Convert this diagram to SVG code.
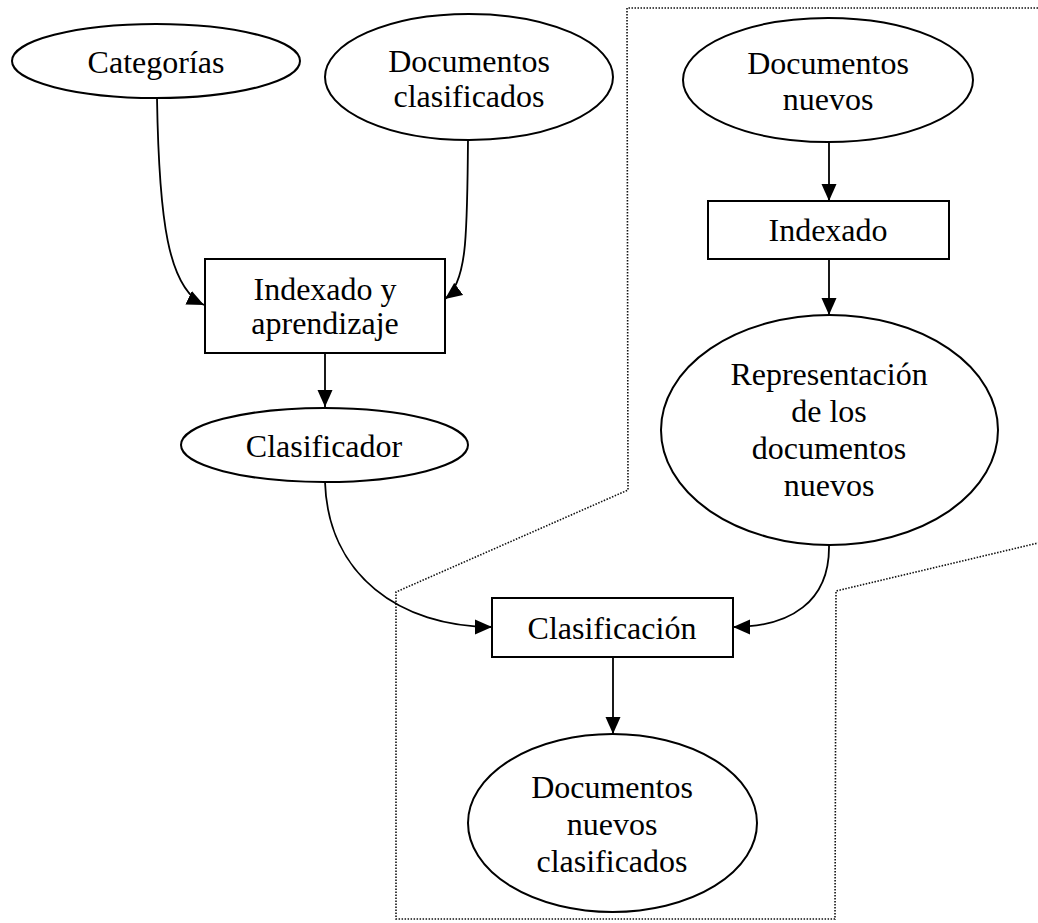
<svg xmlns="http://www.w3.org/2000/svg" width="1038" height="923" viewBox="0 0 1038 923">
<style>
.n{fill:#fff;stroke:#000;stroke-width:2}
.t{font-family:"Liberation Serif","Times New Roman",serif;font-size:32px;fill:#000;text-anchor:middle}
.c{fill:none;stroke:#000;stroke-width:1.8}
.d{fill:none;stroke:#111;stroke-width:1.6;stroke-dasharray:1.5 1.5}
</style>
<defs>
<marker id="ah" markerUnits="userSpaceOnUse" markerWidth="18" markerHeight="16" refX="17" refY="8" orient="auto">
<path d="M0,0.5 L17,8 L0,15.5 z" fill="#000"/>
</marker>
</defs>
<rect width="1038" height="923" fill="#fff"/>
<g id="region">
<path class="d" d="M1038,8 L627,8 L628,490 L396,592 L396,919 L835,919 L836,591 L1038,543"/>
</g>
<g id="connectors">
<path class="c" marker-end="url(#ah)" d="M157,98 C159,220 168,288 204,305"/>
<path class="c" marker-end="url(#ah)" d="M468,140 C467,230 468,282 445,299"/>
<path class="c" marker-end="url(#ah)" d="M325,353 L325,407"/>
<path class="c" marker-end="url(#ah)" d="M829,142 L829,201"/>
<path class="c" marker-end="url(#ah)" d="M829,259 L829,315"/>
<path class="c" marker-end="url(#ah)" d="M325,482 C328,575 400,627 492,627"/>
<path class="c" marker-end="url(#ah)" d="M829,545 C830,602 790,627 733,627"/>
<path class="c" marker-end="url(#ah)" d="M613,657 L613,734"/>
</g>
<g id="categorias">
<ellipse class="n" cx="156" cy="61" rx="144" ry="37"/>
<text class="t" x="156" y="73">Categorías</text>
</g>
<g id="docs-clasificados">
<ellipse class="n" cx="469" cy="77" rx="144" ry="63"/>
<text class="t" x="469" y="72">Documentos</text>
<text class="t" x="469" y="107">clasificados</text>
</g>
<g id="docs-nuevos">
<ellipse class="n" cx="828" cy="80" rx="145" ry="62"/>
<text class="t" x="828" y="74">Documentos</text>
<text class="t" x="828" y="110">nuevos</text>
</g>
<g id="indexado-aprendizaje">
<rect class="n" x="205" y="259" width="240" height="94"/>
<text class="t" x="325" y="300">Indexado y</text>
<text class="t" x="325" y="334">aprendizaje</text>
</g>
<g id="indexado">
<rect class="n" x="708" y="201" width="241" height="58"/>
<text class="t" x="828" y="241">Indexado</text>
</g>
<g id="clasificador">
<ellipse class="n" cx="324.5" cy="445" rx="143.5" ry="37"/>
<text class="t" x="324" y="457">Clasificador</text>
</g>
<g id="representacion">
<ellipse class="n" cx="829.5" cy="430" rx="168.5" ry="115"/>
<text class="t" x="829" y="385">Representación</text>
<text class="t" x="829" y="422">de los</text>
<text class="t" x="829" y="459">documentos</text>
<text class="t" x="829" y="496">nuevos</text>
</g>
<g id="clasificacion">
<rect class="n" x="492" y="598" width="241" height="59"/>
<text class="t" x="612" y="639">Clasificación</text>
</g>
<g id="docs-nuevos-clasificados">
<ellipse class="n" cx="612.5" cy="823" rx="144.5" ry="89"/>
<text class="t" x="612" y="798">Documentos</text>
<text class="t" x="612" y="835">nuevos</text>
<text class="t" x="612" y="872">clasificados</text>
</g>
</svg>
